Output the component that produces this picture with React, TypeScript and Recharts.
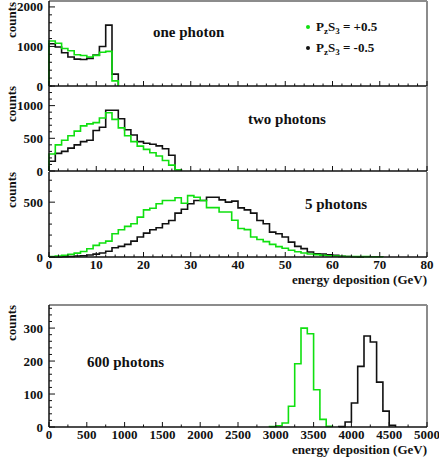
import { LineChart, Line, XAxis, YAxis, ReferenceLine } from "recharts";

const GREEN = "#10e010";
const BLACK = "#111111";
const FRAME = "#8c8c8c";
const FONT = '"Liberation Serif", "Times New Roman", serif';

// 60 bins across each axis range
const GEV_BIN = 80 / 60;
const HIGH_BIN = 5000 / 60;

// one photon, counts per bin starting at 0 GeV
const onePlus = [1140, 1080, 950, 890, 790, 770, 735, 775, 855, 875, 130];
const oneMinus = [1070, 985, 840, 735, 680, 670, 700, 780, 1000, 1540, 300];

// two photons
const twoPlus = [260, 400, 470, 540, 610, 690, 720, 740, 810, 890, 790, 660, 540, 450, 380, 330, 280, 230, 160, 90, 20];
const twoMinus = [150, 270, 300, 350, 400, 450, 470, 620, 670, 930, 930, 800, 630, 550, 450, 425, 410, 385, 340, 240, 20];

// 5 photons
const fivePlus = [
  4, 8, 15, 24, 35, 50, 75, 106, 127, 145, 212, 248, 279, 303, 364, 430, 445, 485, 515, 515,
  540, 490, 560, 545, 515, 450, 450, 410, 410, 335, 260, 250, 182, 160, 140, 115, 95, 80, 62, 48,
  36, 28, 22, 16, 12, 9, 7, 5, 4, 3, 3, 2, 2,
];
const fiveMinus = [
  0, 1, 2, 4, 9, 12, 18, 26, 36, 52, 85, 97, 115, 145, 182, 218, 248, 267, 303, 333,
  400, 436, 485, 515, 515, 545, 545, 521, 500, 509, 448, 430, 400, 333, 303, 227, 212, 182, 136, 97,
  76, 45, 30, 28, 20, 15, 6, 4, 2, 1,
];

// 600 photons, first filled bin index given separately
const sixPlusFirstBin = 35;
const sixPlus = [1, 4, 12, 63, 192, 300, 283, 113, 23, 2];
const sixMinusFirstBin = 46;
const sixMinus = [1, 15, 73, 184, 276, 258, 136, 48, 5];

const seriesNames = ["+0.5", "-0.5"];
const seriesColors = [GREEN, BLACK];

type Pt = { x: number; y: number };

function outline(counts: number[], width: number, firstBin = 0): Pt[] {
  const pts: Pt[] = [{ x: firstBin * width, y: 0 }];
  counts.forEach((c, i) => pts.push({ x: (firstBin + i) * width, y: c }));
  pts.push({ x: (firstBin + counts.length) * width, y: 0 });
  return pts;
}

function range(stop: number, step: number) {
  const out: number[] = [];
  for (let v = 0; v <= stop + 1e-9; v += step) out.push(v);
  return out;
}

const tickText = {
  fontFamily: FONT,
  fontWeight: 700,
  fontSize: 13,
  fill: BLACK,
};

function XTick(props: any) {
  const { x, y, payload, major, labels } = props;
  const isMajor = payload.value % major === 0;
  return (
    <g>
      <path d={`M${x},${y}V${y - (isMajor ? 5 : 2.5)}`} stroke={BLACK} strokeWidth={1} />
      {labels && isMajor && (
        <text x={x} y={y + 12} textAnchor="middle" {...tickText}>
          {payload.value}
        </text>
      )}
    </g>
  );
}

function YTick(props: any) {
  const { x, y, payload, major } = props;
  const isMajor = payload.value % major === 0;
  return (
    <g>
      <path d={`M${x},${y}H${x + (isMajor ? 6 : 3)}`} stroke={BLACK} strokeWidth={1} />
      {isMajor && (
        <text x={x - 6} y={y + 4.5} textAnchor="end" {...tickText}>
          {payload.value}
        </text>
      )}
    </g>
  );
}

type PanelProps = {
  top: number;
  plotHeight: number;
  axisHeight: number;
  xMax: number;
  xStep: number;
  xMajor: number;
  xLabels: boolean;
  yMax: number;
  yStep: number;
  yMajor: number;
  plus: Pt[];
  minus: Pt[];
  topFrame: boolean;
};

function Panel(p: PanelProps) {
  return (
    <div style={{ position: "absolute", left: 0, top: p.top - 8 }}>
      <LineChart
        width={439}
        height={8 + p.plotHeight + p.axisHeight}
        margin={{ top: 8, right: 12, bottom: 0, left: 0 }}
      >
        <XAxis
          type="number"
          dataKey="x"
          domain={[0, p.xMax]}
          ticks={range(p.xMax, p.xStep)}
          interval={0}
          height={p.axisHeight}
          tickSize={0}
          tickMargin={0}
          tickLine={false}
          axisLine={{ stroke: BLACK, strokeWidth: 1.5 }}
          tick={(t: any) => <XTick {...t} major={p.xMajor} labels={p.xLabels} />}
        />
        <YAxis
          type="number"
          domain={[0, p.yMax]}
          ticks={range(p.yMax, p.yStep)}
          interval={0}
          width={49}
          tickSize={0}
          tickMargin={0}
          tickLine={false}
          axisLine={{ stroke: BLACK, strokeWidth: 1.5 }}
          tick={(t: any) => <YTick {...t} major={p.yMajor} />}
        />
        <ReferenceLine x={p.xMax} stroke={FRAME} strokeWidth={2} ifOverflow="visible" />
        {p.topFrame && <ReferenceLine y={p.yMax} stroke={FRAME} strokeWidth={2} ifOverflow="visible" />}
        <Line
          data={p.minus}
          dataKey="y"
          type="stepAfter"
          stroke={BLACK}
          strokeWidth={1.6}
          dot={false}
          isAnimationActive={false}
        />
        <Line
          data={p.plus}
          dataKey="y"
          type="stepAfter"
          stroke={GREEN}
          strokeWidth={1.6}
          dot={false}
          isAnimationActive={false}
        />
      </LineChart>
    </div>
  );
}

const labelText = { fontFamily: FONT, fontWeight: 700, fill: BLACK };

function Counts({ x, y }: { x: number; y: number }) {
  return (
    <text x={x} y={y} transform={`rotate(-90 ${x} ${y})`} fontSize={13} {...labelText}>
      counts
    </text>
  );
}

function LegendRow({ y, name, color }: { y: number; name: string; color: string }) {
  return (
    <g>
      <circle cx={308} cy={y} r={2} fill={color} />
      <text x={316} y={y + 4} fontSize={13} {...labelText}>
        P<tspan fontSize={9} dy={3}>z</tspan>
        <tspan dy={-3}>S</tspan>
        <tspan fontSize={9} dy={3}>3</tspan>
        <tspan dy={-3}> = {name}</tspan>
      </text>
    </g>
  );
}

export default function App() {
  return (
    <div style={{ position: "absolute", left: 0, top: 0, width: 439, height: 460, background: "#fff" }}>
      <Panel
        top={1} plotHeight={85} axisHeight={8}
        xMax={80} xStep={2} xMajor={10} xLabels={false}
        yMax={2150} yStep={200} yMajor={1000}
        plus={outline(onePlus, GEV_BIN)} minus={outline(oneMinus, GEV_BIN)}
        topFrame
      />
      <Panel
        top={86} plotHeight={85} axisHeight={8}
        xMax={80} xStep={2} xMajor={10} xLabels={false}
        yMax={1300} yStep={100} yMajor={500}
        plus={outline(twoPlus, GEV_BIN)} minus={outline(twoMinus, GEV_BIN)}
        topFrame={false}
      />
      <Panel
        top={172} plotHeight={85} axisHeight={30}
        xMax={80} xStep={2} xMajor={10} xLabels
        yMax={775} yStep={100} yMajor={500}
        plus={outline(fivePlus, GEV_BIN)} minus={outline(fiveMinus, GEV_BIN)}
        topFrame={false}
      />
      <Panel
        top={305} plotHeight={122} axisHeight={30}
        xMax={5000} xStep={250} xMajor={500} xLabels
        yMax={370} yStep={20} yMajor={100}
        plus={outline(sixPlus, HIGH_BIN, sixPlusFirstBin)}
        minus={outline(sixMinus, HIGH_BIN, sixMinusFirstBin)}
        topFrame
      />
      <svg
        width={439}
        height={460}
        style={{ position: "absolute", left: 0, top: 0, pointerEvents: "none" }}
      >
        <Counts x={16} y={38} />
        <Counts x={16} y={122} />
        <Counts x={16} y={208} />
        <Counts x={16} y={341} />
        <text x={153} y={37} fontSize={15} {...labelText}>one photon</text>
        <text x={248} y={124} fontSize={15} {...labelText}>two photons</text>
        <text x={305} y={209} fontSize={15} {...labelText}>5 photons</text>
        <text x={87} y={367} fontSize={15} {...labelText}>600 photons</text>
        <LegendRow y={27} name={seriesNames[0]} color={seriesColors[0]} />
        <LegendRow y={48} name={seriesNames[1]} color={seriesColors[1]} />
        <text x={427} y={284} textAnchor="end" fontSize={13} {...labelText}>energy deposition (GeV)</text>
        <text x={427} y={454} textAnchor="end" fontSize={13} {...labelText}>energy deposition (GeV)</text>
      </svg>
    </div>
  );
}
